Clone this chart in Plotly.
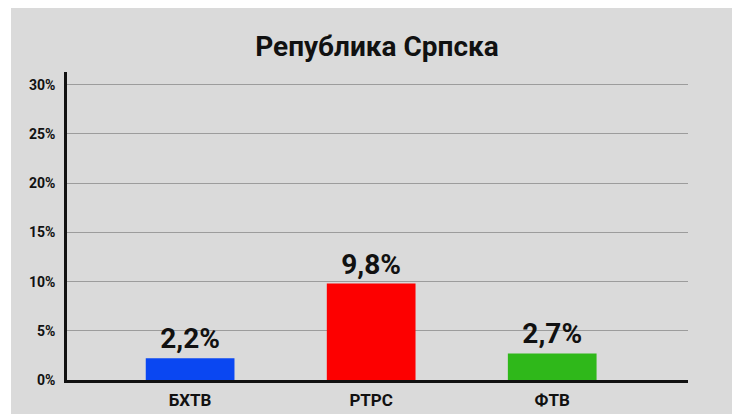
import plotly.graph_objects as go

categories = ["БХТВ", "РТРС", "ФТВ"]
values = [2.2, 9.8, 2.7]
colors = ["#0a47f2", "#fd0000", "#2fb81a"]
labels = [f"{v:.1f}%".replace(".", ",") for v in values]
title_text = "Република Српска"

FONT = "Roboto, DejaVu Sans, sans-serif"

fig = go.Figure()
fig.add_trace(go.Bar(
    x=list(range(len(categories))), y=values,
    marker=dict(color=colors, line=dict(width=0)),
    width=0.49,
    text=["<b>" + t + "</b>" for t in labels], textposition="outside",
    textfont=dict(family=FONT, size=28, color="#111111"),
    cliponaxis=False,
))

fig.update_layout(
    width=732, height=414,
    paper_bgcolor="white",
    plot_bgcolor="rgba(0,0,0,0)",
    margin=dict(l=67, r=44, t=72, b=34),
    showlegend=False,
    font=dict(family=FONT, color="#111111"),
    title=dict(text="<b>" + title_text + "</b>", x=0.515, xanchor="center",
               y=1 - 46 / 414, yanchor="middle", yref="container",
               font=dict(family=FONT, size=28, color="#111111")),
    shapes=[dict(type="rect", xref="paper", yref="paper",
                 x0=-56/621, x1=1 + 44/621 + 0.01,
                 y0=-34/308 - 0.01, y1=1 + 64/308,
                 fillcolor="#dadada", line=dict(width=0), layer="below")],
)
fig.update_xaxes(
    range=[-0.68, 2.75], automargin=False,
    tickmode="array", tickvals=list(range(len(categories))),
    ticktext=["<b>" + c + "</b>" for c in categories],
    tickfont=dict(family=FONT, size=17, color="#111111"),
    showline=True, linecolor="#111111", linewidth=3,
    showgrid=False, ticks="", zeroline=False, ticklabelstandoff=3,
)
fig.update_yaxes(
    range=[0, 31.3], dtick=5, tick0=0, automargin=False,
    tickprefix="<b>", ticksuffix="%</b>",
    tickfont=dict(family=FONT, size=14, color="#111111"),
    showline=True, linecolor="#111111", linewidth=2.5,
    showgrid=True, gridcolor="#9c9c9c", gridwidth=1,
    zeroline=False, ticks="", ticklabelstandoff=6,
)

fig.write_html("out.html")
